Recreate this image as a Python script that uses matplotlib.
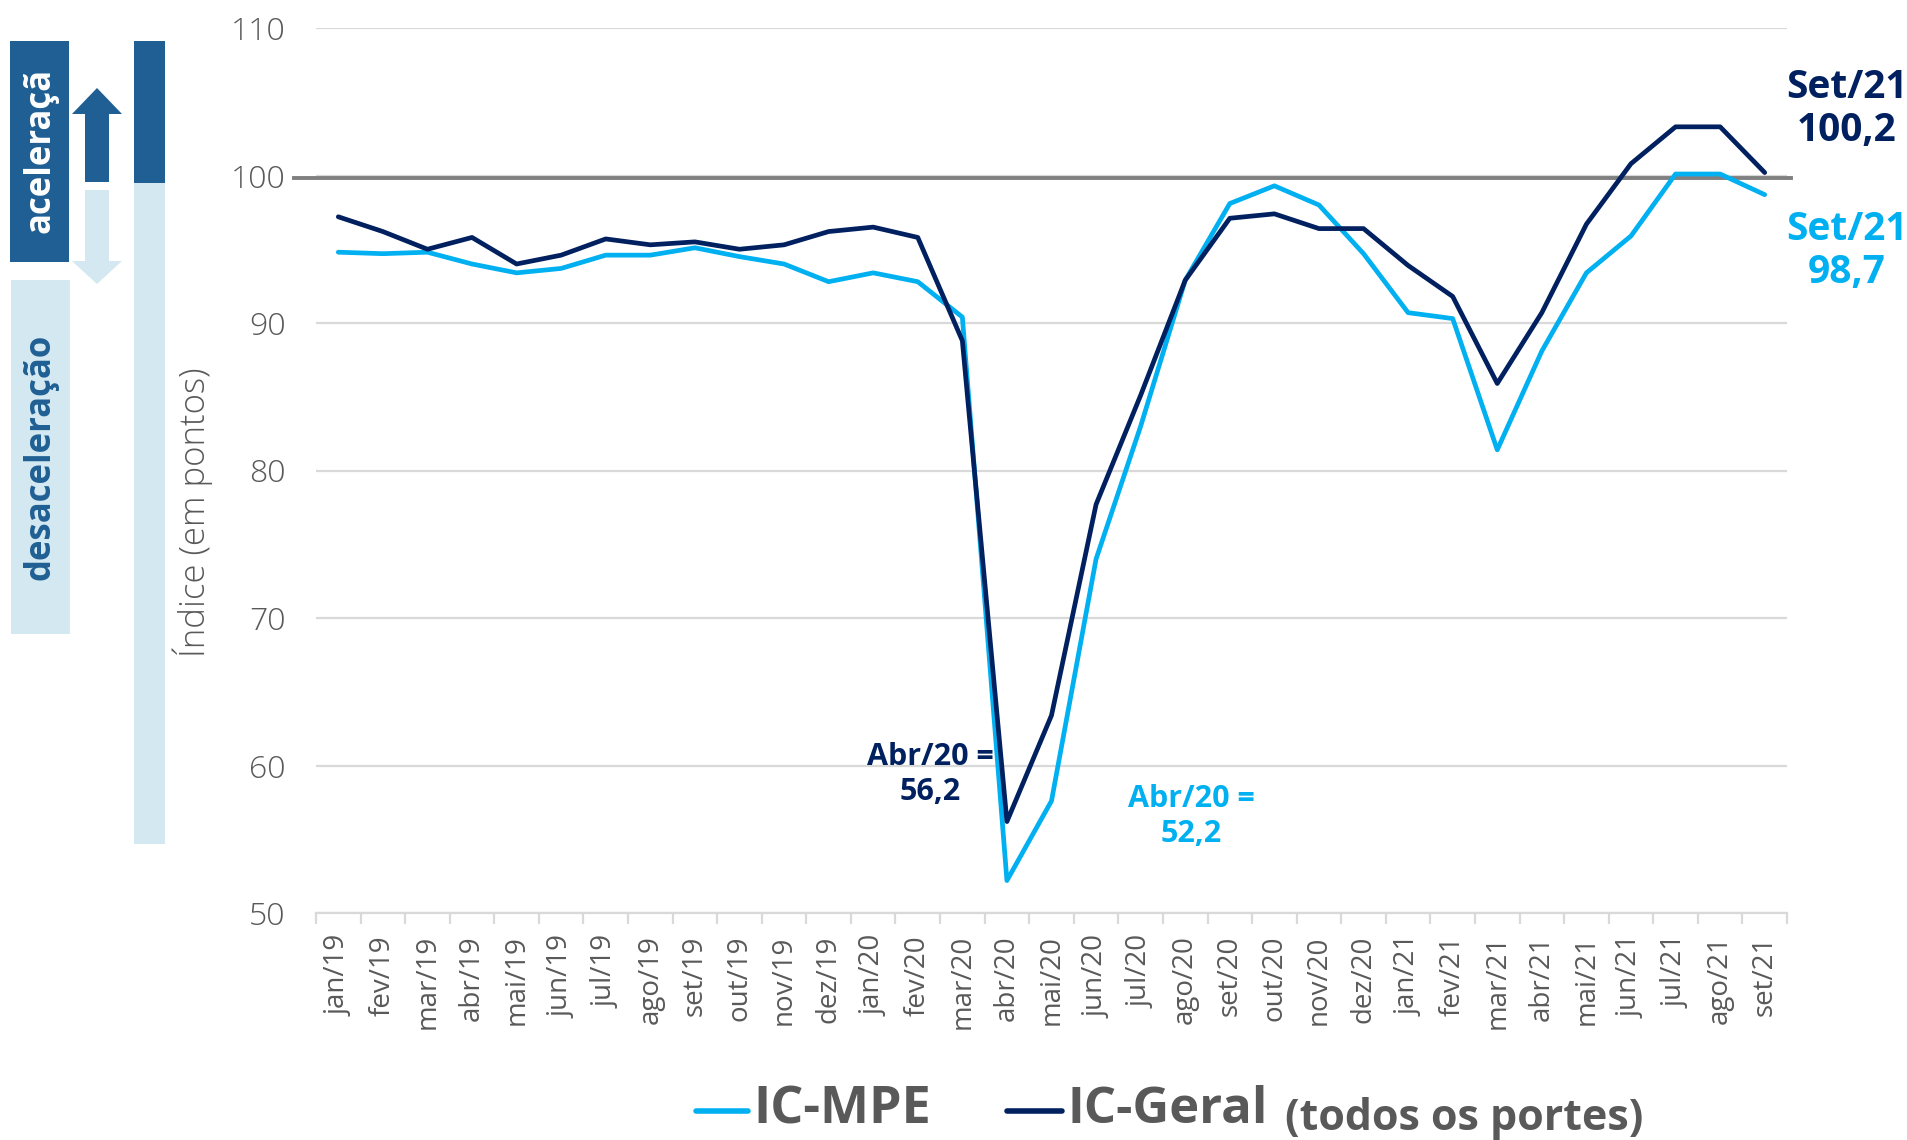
import numpy as np
import matplotlib
matplotlib.use('Agg')
import matplotlib.pyplot as plt
from matplotlib.patches import Rectangle, Polygon
from matplotlib.lines import Line2D

plt.rcParams['font.family'] = ['Open Sans', 'DejaVu Sans']

# data
months = ['jan/19', 'fev/19', 'mar/19', 'abr/19', 'mai/19', 'jun/19', 'jul/19', 'ago/19',
          'set/19', 'out/19', 'nov/19', 'dez/19', 'jan/20', 'fev/20', 'mar/20', 'abr/20',
          'mai/20', 'jun/20', 'jul/20', 'ago/20', 'set/20', 'out/20', 'nov/20', 'dez/20',
          'jan/21', 'fev/21', 'mar/21', 'abr/21', 'mai/21', 'jun/21', 'jul/21', 'ago/21', 'set/21']
ic_mpe = [94.8, 94.7, 94.8, 94.0, 93.4, 93.7, 94.6, 94.6, 95.1, 94.5, 94.0, 92.8, 93.4, 92.8,
          90.4, 52.2, 57.6, 74.0, 83.0, 92.9, 98.1, 99.3, 98.0, 94.7, 90.7, 90.3, 81.4, 88.1,
          93.4, 95.9, 100.1, 100.1, 98.7]
ic_geral = [97.2, 96.2, 95.0, 95.8, 94.0, 94.6, 95.7, 95.3, 95.5, 95.0, 95.3, 96.2, 96.5, 95.8,
            88.8, 56.2, 63.4, 77.7, 85.1, 92.9, 97.1, 97.4, 96.4, 96.4, 93.9, 91.8, 85.9, 90.7,
            96.7, 100.8, 103.3, 103.3, 100.2]
yticks = [50, 60, 70, 80, 90, 100, 110]

C_MPE = '#00B0F0'
C_GERAL = '#002060'
C_TXT = '#595959'
C_GRID = '#d9d9d9'
C_DARK = '#1F5F93'
C_LIGHT = '#D3E8F1'

W, H = 1907, 1140
fig = plt.figure(figsize=(W / 100, H / 100), dpi=100)


def fx(x):
    return x / W


def fy(y):
    return 1 - y / H


ax = fig.add_axes([fx(316), fy(913), (1787 - 316) / W, (913 - 28) / H])
x = np.arange(len(months))

ax.set_xlim(-0.5, len(months) - 0.5)
ax.set_ylim(50, 110)
ax.set_yticks(yticks)
ax.yaxis.grid(True, color=C_GRID, lw=1.6)
ax.set_axisbelow(True)
for s in ['top', 'right', 'left']:
    ax.spines[s].set_visible(False)
ax.spines['bottom'].set_color(C_GRID)
ax.spines['bottom'].set_linewidth(1.6)

ax.tick_params(axis='y', length=0, pad=22, labelsize=23, labelcolor=C_TXT)
for lab in ax.get_yticklabels():
    lab.set_fontweight('light')

ax.set_xticks(x)
ax.set_xticklabels(months, rotation=90, fontsize=20, color=C_TXT)
ax.set_xticks(np.arange(-0.5, len(months)), minor=True)
ax.tick_params(axis='x', which='major', length=0, pad=16)
ax.tick_params(axis='x', which='minor', length=8, width=1.6, color=C_GRID)

# reference line at 100
ax.plot([-1.0, 32.6], [99.8, 99.8], color='#808080', lw=2.8, clip_on=False, zorder=2)

ax.plot(x, ic_mpe, color=C_MPE, lw=3.4, solid_joinstyle='round', solid_capstyle='round', zorder=3)
ax.plot(x, ic_geral, color=C_GERAL, lw=3.4, solid_joinstyle='round', solid_capstyle='round', zorder=4)

# annotations
fig.text(fx(930), fy(757), 'Abr/20 =', color=C_GERAL, fontsize=22, fontweight='bold', ha='center', va='center')
fig.text(fx(930), fy(792), '56,2', color=C_GERAL, fontsize=22, fontweight='bold', ha='center', va='center')
fig.text(fx(1191), fy(799), 'Abr/20 =', color=C_MPE, fontsize=22, fontweight='bold', ha='center', va='center')
fig.text(fx(1191), fy(834), '52,2', color=C_MPE, fontsize=22, fontweight='bold', ha='center', va='center')
fig.text(fx(1847), fy(88), 'Set/21', color=C_GERAL, fontsize=28, fontweight='bold', ha='center', va='center')
fig.text(fx(1847), fy(131), '100,2', color=C_GERAL, fontsize=28, fontweight='bold', ha='center', va='center')
fig.text(fx(1847), fy(229), 'Set/21', color=C_MPE, fontsize=28, fontweight='bold', ha='center', va='center')
fig.text(fx(1847), fy(272), '98,7', color=C_MPE, fontsize=28, fontweight='bold', ha='center', va='center')

# y label
fig.text(fx(193), fy(512), 'Índice (em pontos)', rotation=90, color=C_TXT, fontsize=25,
         fontweight='light', ha='center', va='center')

# left side boxes and arrows
def rect(x0, y0, x1, y1, color):
    fig.add_artist(Rectangle((fx(x0), fy(y1)), (x1 - x0) / W, (y1 - y0) / H,
                             transform=fig.transFigure, color=color, lw=0))


rect(10, 41, 69, 262, C_DARK)
rect(11, 280, 70, 634, C_LIGHT)
rect(134, 41, 165, 183, C_DARK)
rect(134, 183, 165, 844, C_LIGHT)

up = [(97, 88), (122, 114), (109, 114), (109, 182), (85, 182), (85, 114), (72, 114)]
down = [(85, 190), (109, 190), (109, 261), (122, 261), (97, 284), (72, 261), (85, 261)]
fig.add_artist(Polygon([(fx(a), fy(b)) for a, b in up], closed=True, transform=fig.transFigure,
                       color=C_DARK, lw=0))
fig.add_artist(Polygon([(fx(a), fy(b)) for a, b in down], closed=True, transform=fig.transFigure,
                       color=C_LIGHT, lw=0))

fig.text(fx(41), fy(150), 'aceleraçã', rotation=90, color='white', fontsize=25,
         fontweight='bold', ha='center', va='center')
fig.text(fx(41), fy(457), 'desaceleração', rotation=90, color=C_DARK, fontsize=25,
         fontweight='bold', ha='center', va='center')

# legend
fig.add_artist(Line2D([fx(696), fx(748)], [fy(1111), fy(1111)], transform=fig.transFigure,
                      color=C_MPE, lw=4, solid_capstyle='round'))
fig.text(fx(753), fy(1110), 'IC-MPE', color=C_TXT, fontsize=37.5, fontweight='bold',
         ha='left', va='center')
fig.add_artist(Line2D([fx(1007), fx(1062)], [fy(1111), fy(1111)], transform=fig.transFigure,
                      color=C_GERAL, lw=4, solid_capstyle='round'))
fig.text(fx(1067), fy(1110), 'IC-Geral', color=C_TXT, fontsize=36.5, fontweight='bold',
         ha='left', va='center')
fig.text(fx(1285), fy(1119), '(todos os portes)', color=C_TXT, fontsize=31, fontweight='bold',
         ha='left', va='center')

fig.savefig('out.png', dpi=100)
